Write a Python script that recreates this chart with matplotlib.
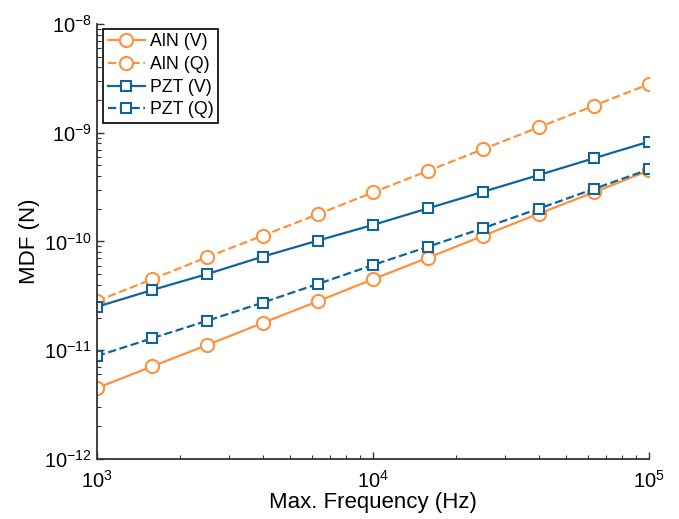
import matplotlib
matplotlib.use('Agg')
import matplotlib.pyplot as plt
from matplotlib.ticker import LogLocator, NullFormatter

plt.rcParams['font.family'] = 'Liberation Sans'
plt.rcParams['mathtext.fontset'] = 'custom'
plt.rcParams['mathtext.rm'] = 'Liberation Sans'
plt.rcParams['mathtext.it'] = 'Liberation Sans'

# data
freq = [1.0e3, 1.585e3, 2.512e3, 3.981e3, 6.31e3, 1.0e4,
        1.585e4, 2.512e4, 3.981e4, 6.31e4, 1.0e5]
aln_v = [4.5e-12, 7.1e-12, 1.12e-11, 1.78e-11, 2.82e-11, 4.5e-11,
         7.1e-11, 1.13e-10, 1.8e-10, 2.83e-10, 4.5e-10]
aln_q = [2.84e-11, 4.5e-11, 7.2e-11, 1.13e-10, 1.78e-10, 2.83e-10,
         4.47e-10, 7.08e-10, 1.12e-9, 1.77e-9, 2.8e-9]
pzt_v = [2.51e-11, 3.58e-11, 5.03e-11, 7.25e-11, 1.02e-10, 1.42e-10,
         2.02e-10, 2.87e-10, 4.08e-10, 5.82e-10, 8.28e-10]
pzt_q = [8.85e-12, 1.29e-11, 1.87e-11, 2.74e-11, 4.07e-11, 6.08e-11,
         8.96e-11, 1.33e-10, 2.0e-10, 3.04e-10, 4.61e-10]

orange = '#FF913D'
blue = '#10649A'

fig = plt.figure(figsize=(6.79, 5.19), dpi=100)
ax = fig.add_axes([0.1429, 0.1156, 0.8129, 0.8382])

style = dict(linewidth=1.6, markerfacecolor='white', markeredgewidth=1.5)
ax.plot(freq, aln_v, '-', marker='o', color=orange, markersize=9.5, label='AlN (V)', **style)
ax.plot(freq, aln_q, '--', marker='o', color=orange, markersize=9.5, label='AlN (Q)', **style)
ax.plot(freq, pzt_v, '-', marker='s', color=blue, markersize=7.5, label='PZT (V)', **style)
ax.plot(freq, pzt_q, '--', marker='s', color=blue, markersize=7.5, label='PZT (Q)', **style)

ax.set_xscale('log')
ax.set_yscale('log')
ax.set_xlim(1e3, 1e5)
ax.set_ylim(1e-12, 1e-8)

ax.xaxis.set_minor_locator(LogLocator(base=10, subs=range(2, 10)))
ax.yaxis.set_minor_locator(LogLocator(base=10, subs=range(2, 10)))
ax.xaxis.set_minor_formatter(NullFormatter())
ax.yaxis.set_minor_formatter(NullFormatter())

for s in ['top', 'right']:
    ax.spines[s].set_visible(False)
for s in ['left', 'bottom']:
    ax.spines[s].set_color('#333333')
    ax.spines[s].set_linewidth(1.3)

ax.tick_params(which='both', direction='in', colors='#333333', labelcolor='black', labelsize=14.5)
ax.tick_params(which='major', length=5, width=1)
ax.tick_params(which='minor', length=3, width=0.8)
ax.tick_params(axis='x', pad=8)

ax.set_xlabel('Max. Frequency (Hz)', fontsize=16, labelpad=0)
ax.set_ylabel('MDF (N)', fontsize=16, labelpad=3)

leg = ax.legend(loc='upper left', bbox_to_anchor=(0.011, 0.9885), fontsize=12.8,
                handlelength=2.1, handletextpad=0.3, borderpad=0.25,
                labelspacing=0.32, fancybox=False, framealpha=1, borderaxespad=0)
leg.get_frame().set_edgecolor('black')
leg.get_frame().set_linewidth(1.2)

fig.savefig('out.png', dpi=100)
